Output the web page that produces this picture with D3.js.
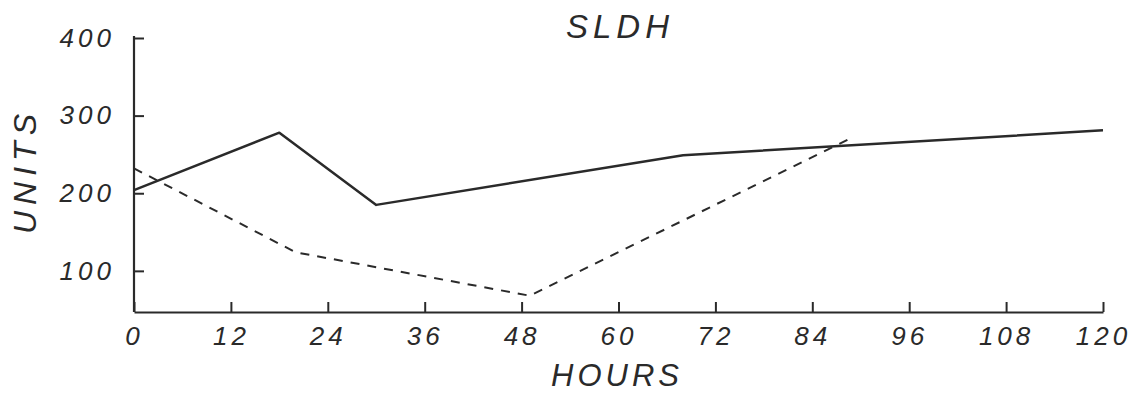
<!DOCTYPE html>
<html>
<head>
<meta charset="utf-8">
<script src="https://cdn.jsdelivr.net/npm/d3@7"></script>
<style>
  html, body { margin: 0; padding: 0; background: #fff; }
  svg text { font-family: "Liberation Sans", "DejaVu Sans", sans-serif; font-style: italic; fill: #2a2a2a; }
</style>
</head>
<body>
<svg id="chart" width="1143" height="405"></svg>
<script>
// Serum LDH over time, two patient series
const xTicks = [0, 12, 24, 36, 48, 60, 72, 84, 96, 108, 120];
const yTicks = [100, 200, 300, 400];

const solidHours = [0, 18, 30, 68, 120];
const solidUnits = [204, 278, 185, 249, 281];

const dashedHours = [0, 20, 49, 89];
const dashedUnits = [232, 124, 68, 272];

const svg = d3.select("#chart");
const ink = "#2a2a2a";

const x = d3.scaleLinear().domain([0, 120]).range([134, 1103]);
const y = d3.scaleLinear().domain([47, 400]).range([312, 38]);

// x axis: ticks point up into the plot
const gx = svg.append("g").attr("transform", `translate(0,${y(47)})`)
  .call(d3.axisBottom(x).tickValues(xTicks).tickSize(-10).tickSizeOuter(0).tickPadding(15));
gx.select(".domain").attr("stroke", ink).attr("stroke-width", 2.2);
gx.selectAll(".tick line").attr("stroke", ink).attr("stroke-width", 2);
gx.selectAll(".tick text").attr("font-size", 26).attr("letter-spacing", 4)
  .attr("font-family", null).attr("fill", ink);

// y axis: ticks point right into the plot
const gy = svg.append("g").attr("transform", `translate(${x(0)},0)`)
  .call(d3.axisLeft(y).tickValues(yTicks).tickSize(-10).tickSizeOuter(0).tickPadding(19));
gy.select(".domain").attr("stroke", ink).attr("stroke-width", 2.2)
  .attr("d", `M0,${y(400) - 2}V${y(47)}`);
gy.selectAll(".tick line").attr("stroke", ink).attr("stroke-width", 2);
gy.selectAll(".tick text").attr("font-size", 26).attr("letter-spacing", 4)
  .attr("font-family", null).attr("fill", ink);

const line = d3.line().x(d => x(d[0])).y(d => y(d[1]));

svg.append("path")
  .datum(d3.zip(solidHours, solidUnits))
  .attr("d", line)
  .attr("fill", "none")
  .attr("stroke", ink)
  .attr("stroke-width", 2.5)
  .attr("stroke-linejoin", "round");

svg.append("path")
  .datum(d3.zip(dashedHours, dashedUnits))
  .attr("d", line)
  .attr("fill", "none")
  .attr("stroke", ink)
  .attr("stroke-width", 2)
  .attr("stroke-dasharray", "9,8");

// Title and axis titles
svg.append("text")
  .attr("x", 620).attr("y", 38)
  .attr("text-anchor", "middle")
  .attr("font-size", 33).attr("letter-spacing", 5)
  .text("SLDH");

svg.append("text")
  .attr("x", 617).attr("y", 386)
  .attr("text-anchor", "middle")
  .attr("font-size", 31).attr("letter-spacing", 4)
  .text("HOURS");

svg.append("text")
  .attr("transform", "translate(36,171) rotate(-90)")
  .attr("text-anchor", "middle")
  .attr("font-size", 32).attr("letter-spacing", 6)
  .text("UNITS");
</script>
</body>
</html>
